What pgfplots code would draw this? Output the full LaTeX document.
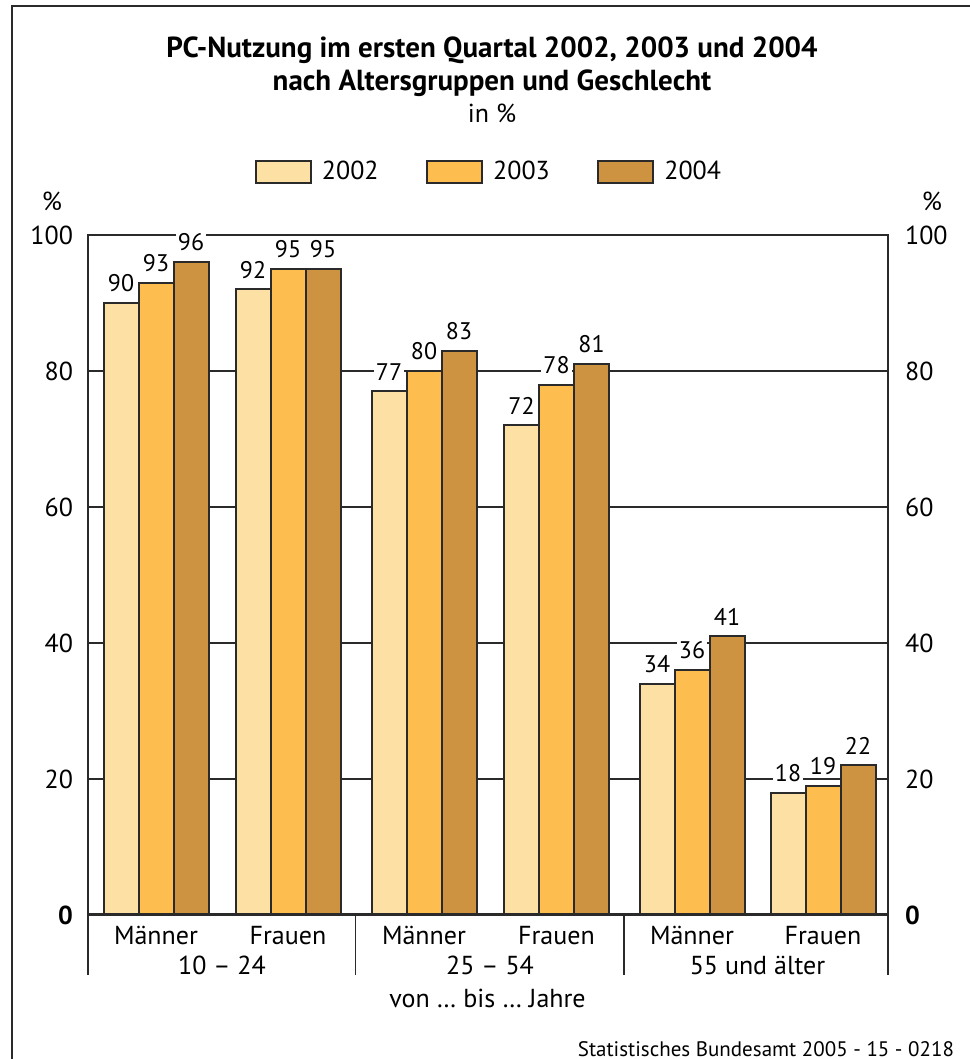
\documentclass[border=0pt]{standalone}
\usepackage{fontspec}
\setmainfont{PT Sans}
\usepackage{pgfplots}
\pgfplotsset{compat=1.18}
\definecolor{cA}{HTML}{FDE0A3}
\definecolor{cB}{HTML}{FDBE4F}
\definecolor{cC}{HTML}{CD9340}
\definecolor{ln}{HTML}{2A2A2A}
\newcommand{\fs}{\fontsize{12}{14}\selectfont}
\newcommand{\fm}{\fontsize{13}{15}\selectfont}
\begin{document}
\begin{tikzpicture}
\useasboundingbox (0,0) rectangle (484.5pt,529.5pt);
\draw[ln, line width=1pt] (6pt,0pt) -- (6pt,526.5pt) -- (486pt,526.5pt);
\node[anchor=base, font=\fontsize{14.5}{16}\selectfont\bfseries] at (246pt,500.5pt) {PC-Nutzung im ersten Quartal 2002, 2003 und 2004};
\node[anchor=base, font=\fontsize{14.5}{16}\selectfont\bfseries] at (246pt,484pt) {nach Altersgruppen und Geschlecht};
\node[anchor=base, font=\fm] at (246pt,468pt) {in \%};
\node[anchor=base, font=\fm] at (26pt,424pt) {\%};
\node[anchor=base, font=\fm] at (466pt,424pt) {\%};
\node[anchor=base, font=\fm] at (243.75pt,25.5pt) {von \dots\ bis \dots\ Jahre};
\node[anchor=base east, font=\fontsize{10.5}{12}\selectfont] at (480.5pt,1.5pt) {Statistisches Bundesamt 2005 - 15 - 0218};

\begin{axis}[
  at={(44pt,72pt)}, anchor=origin,
  scale only axis, width=400pt, height=340pt,
  xmin=0, xmax=800, ymin=0, ymax=100,
  clip=false,
  axis line style={ln, line width=1pt},
  ytick={0,20,40,60,80,100},
  yticklabels={\textbf{0},20,40,60,80,100},
  ymajorgrids, grid style={ln, line width=0.75pt},
  major tick length=0pt,
  xtick={68,200,336,468.5,604,735},
  xticklabels={Männer,Frauen,Männer,Frauen,Männer,Frauen},
  xticklabel style={anchor=base, yshift=-15pt},
  tick label style={font=\fm},
  yticklabel style={xshift=-4pt},
  /pgf/number format/assume math mode=true,
  nodes near coords,
  every node near coord/.append style={font=\fs, fill=white, inner sep=1pt, yshift=4pt, anchor=south},
  legend columns=3,
  legend style={at={(0.5025,1.0926)}, anchor=center, draw=none, fill=none, font=\fm,
    /tikz/every even column/.append style={column sep=21.75pt}},
  legend image code/.code={\draw[#1, line width=1pt] (0pt,-5.5pt) rectangle (27.5pt,5.5pt); \path (30.5pt,0pt);},
]
\addplot[ybar, bar width=35, bar shift=0, fill=cA, draw=ln, line width=1pt]
  coordinates {(33,90) (165,92) (301,77) (433.5,72) (569,34) (700,18)};
\addlegendentry{2002}
\addplot[ybar, bar width=35, bar shift=0, fill=cB, draw=ln, line width=1pt]
  coordinates {(68,93) (200,95) (336,80) (468.5,78) (604,36) (735,19)};
\addlegendentry{2003}
\addplot[ybar, bar width=35, bar shift=0, fill=cC, draw=ln, line width=1pt]
  coordinates {(103,96) (235,95) (371,83) (503.5,81) (639,41) (770,22)};
\addlegendentry{2004}
\draw[ln, line width=1.5pt] (axis cs:0,0) -- (axis cs:800,0);
\draw[ln, line width=0.6pt] (axis cs:0,0) -- ++(0pt,-30pt);
\draw[ln, line width=0.6pt] (axis cs:267.5,0) -- ++(0pt,-30pt);
\draw[ln, line width=0.6pt] (axis cs:536,0) -- ++(0pt,-30pt);
\draw[ln, line width=0.6pt] (axis cs:800,0) -- ++(0pt,-30pt);
\node[anchor=base, font=\fm, yshift=-30pt] at (axis cs:134,0) {10 – 24};
\node[anchor=base, font=\fm, yshift=-30pt] at (axis cs:402,0) {25 – 54};
\node[anchor=base, font=\fm, yshift=-30pt] at (axis cs:669.5,0) {55 und älter};
\end{axis}

\begin{axis}[
  at={(44pt,72pt)}, anchor=origin,
  scale only axis, width=400pt, height=340pt,
  xmin=0, xmax=800, ymin=0, ymax=100,
  axis line style={draw=none},
  xtick=\empty,
  ytick={0,20,40,60,80,100},
  yticklabels={\textbf{0},20,40,60,80,100},
  yticklabel pos=right,
  major tick length=0pt,
  tick label style={font=\fm},
  yticklabel style={xshift=5pt},
]
\end{axis}
\end{tikzpicture}
\end{document}
